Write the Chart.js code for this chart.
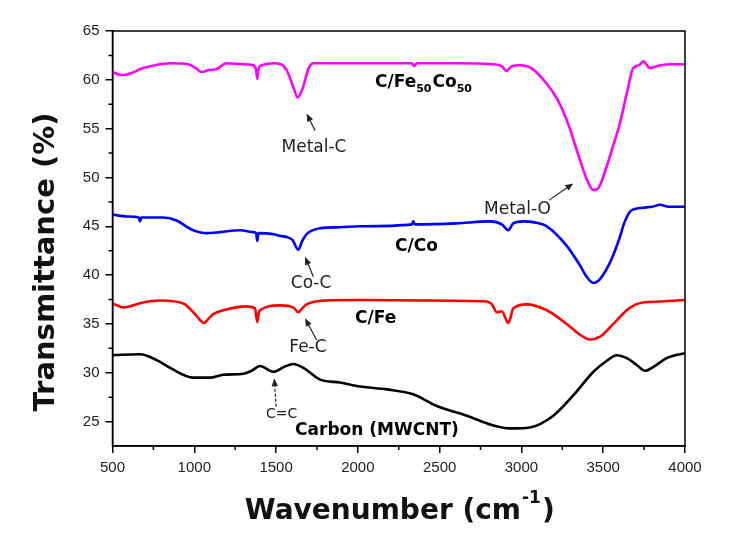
<!DOCTYPE html>
<html>
<head>
<meta charset="utf-8">
<script src="https://cdn.jsdelivr.net/npm/chart.js@4/dist/chart.umd.min.js"></script>
<style>
  html, body { margin: 0; padding: 0; background: #fff; }
  #wrap { width: 729px; height: 538px; position: relative; }
</style>
</head>
<body>
<div id="wrap"><canvas id="ftir"></canvas></div>
<script>
// FTIR spectra
const feCoX = [500, 556, 600, 688, 760, 852, 963, 1010, 1045, 1090, 1137, 1198, 1300, 1361, 1378, 1385, 1392, 1402, 1494, 1540, 1565, 1605, 1632, 1660, 1700, 1728, 1900, 2100, 2330, 2345, 2360, 2600, 2820, 2880, 2910, 2940, 2990, 3060, 3155, 3220, 3277, 3358, 3400, 3440, 3470, 3521, 3560, 3603, 3644, 3684, 3720, 3745, 3786, 3850, 3920, 4000];
const feCoY = [60.8, 60.5, 60.6, 61.2, 61.5, 61.7, 61.6, 61.2, 60.8, 61.0, 61.1, 61.7, 61.6, 61.5, 61.0, 60.1, 61.0, 61.4, 61.7, 61.5, 61.0, 59.3, 58.2, 59.0, 61.2, 61.7, 61.7, 61.7, 61.7, 61.4, 61.7, 61.7, 61.6, 61.4, 60.9, 61.4, 61.5, 61.2, 59.6, 58.0, 55.9, 51.8, 49.8, 48.7, 48.9, 51.1, 53.2, 55.6, 58.6, 61.2, 61.5, 61.9, 61.2, 61.5, 61.6, 61.6];

const coX = [500, 587, 660, 668, 676, 811, 892, 950, 994, 1076, 1157, 1280, 1361, 1378, 1385, 1392, 1483, 1530, 1565, 1600, 1636, 1660, 1687, 1769, 1891, 2013, 2330, 2339, 2348, 2600, 2808, 2880, 2920, 2950, 3011, 3080, 3155, 3277, 3358, 3400, 3440, 3480, 3542, 3600, 3630, 3664, 3700, 3745, 3800, 3847, 3900, 4000];
const coY = [46.2, 46.0, 45.9, 45.5, 45.9, 45.9, 45.6, 45.0, 44.6, 44.3, 44.4, 44.6, 44.4, 44.3, 43.5, 44.3, 44.2, 44.0, 43.9, 43.6, 42.6, 43.5, 44.2, 44.8, 44.9, 45.0, 45.2, 45.5, 45.2, 45.3, 45.5, 45.2, 44.6, 45.3, 45.5, 45.4, 45.0, 43.0, 41.0, 39.8, 39.2, 39.6, 41.3, 43.8, 45.4, 46.5, 46.8, 46.9, 47.0, 47.2, 47.0, 47.0];

const feX = [500, 566, 688, 790, 933, 994, 1030, 1059, 1090, 1116, 1177, 1320, 1371, 1385, 1395, 1402, 1524, 1605, 1636, 1660, 1687, 1809, 2013, 2400, 2788, 2820, 2849, 2880, 2920, 2951, 3032, 3155, 3277, 3350, 3419, 3481, 3562, 3644, 3700, 3745, 3850, 4000];
const feY = [37.1, 36.7, 37.2, 37.4, 37.1, 36.2, 35.5, 35.1, 35.6, 36.0, 36.4, 36.8, 36.6, 35.2, 36.2, 36.4, 36.9, 36.7, 36.2, 36.6, 37.0, 37.4, 37.45, 37.4, 37.3, 37.0, 36.2, 36.3, 35.1, 36.6, 37.0, 36.4, 35.0, 34.0, 33.4, 33.7, 35.0, 36.4, 37.0, 37.2, 37.3, 37.45];

const cntX = [500, 668, 770, 852, 994, 1096, 1177, 1300, 1350, 1402, 1483, 1550, 1605, 1667, 1769, 1891, 2013, 2176, 2339, 2482, 2666, 2829, 2930, 3052, 3195, 3318, 3440, 3520, 3583, 3644, 3705, 3756, 3807, 3888, 4000];
const cntY = [31.8, 31.9, 31.3, 30.5, 29.5, 29.5, 29.8, 29.9, 30.2, 30.7, 30.1, 30.6, 30.9, 30.5, 29.3, 29.0, 28.6, 28.3, 27.8, 26.6, 25.6, 24.6, 24.3, 24.4, 25.6, 27.7, 30.1, 31.2, 31.8, 31.5, 30.8, 30.2, 30.6, 31.5, 32.0];

const xTicks = [500, 1000, 1500, 2000, 2500, 3000, 3500, 4000];
const yTicks = [25, 30, 35, 40, 45, 50, 55, 60, 65];

// labels placed in data units: [text, x, y, align, style]
const labels = [
  ['Metal-C', 1732, 52.62, 'center', 'n'],
  ['Metal-O', 2976, 46.25, 'center', 'n'],
  ['C/Co', 2227, 42.46, 'left', 'b'],
  ['Co-C', 1714, 38.68, 'center', 'n'],
  ['C/Fe', 1983, 35.1, 'left', 'b'],
  ['Fe-C', 1695, 32.16, 'center', 'n'],
  ['C=C', 1534, 25.38, 'center', 's'],
  ['Carbon (MWCNT)', 1616, 23.64, 'left', 'b']
];
// arrows: [fromX, fromY, toX, toY, dashed]
const arrows = [
  [1738, 54.8, 1687, 56.55, false],
  [3170, 47.68, 3317, 49.39, false],
  [1728, 39.83, 1677, 41.88, false],
  [1748, 33.36, 1677, 35.58, false],
  [1500, 26.53, 1489, 29.44, true]
];

function pts(xs, ys) { return xs.map((x, i) => ({ x: x, y: ys[i] })); }

function series(label, xs, ys, color) {
  return {
    label: label,
    data: pts(xs, ys),
    borderColor: color,
    backgroundColor: color,
    borderWidth: 2.6,
    pointRadius: 0,
    fill: false,
    cubicInterpolationMode: 'monotone'
  };
}

const extras = {
  id: 'extras',
  beforeDraw(chart) {
    const c = chart.ctx;
    c.save();
    c.fillStyle = '#fff';
    c.fillRect(0, 0, chart.width, chart.height);
    c.restore();
  },
  afterDraw(chart) {
    const c = chart.ctx;
    const xs = chart.scales.x, ys = chart.scales.y;
    const a = chart.chartArea;
    c.save();
    // frame
    c.strokeStyle = '#000';
    c.lineWidth = 1.5;
    c.strokeRect(a.left, a.top, a.right - a.left, a.bottom - a.top);
    // minor ticks
    c.beginPath();
    for (let v = 750; v < 4000; v += 500) {
      const px = xs.getPixelForValue(v);
      c.moveTo(px, a.bottom); c.lineTo(px, a.bottom + 4);
    }
    for (let v = 27.5; v < 65; v += 5) {
      const py = ys.getPixelForValue(v);
      c.moveTo(a.left, py); c.lineTo(a.left - 4, py);
    }
    c.stroke();

    // axis titles
    c.fillStyle = '#111';
    c.font = 'bold 29px "DejaVu Sans"';
    c.textBaseline = 'middle';
    c.textAlign = 'center';
    c.save();
    c.translate(46, 262);
    c.rotate(-Math.PI / 2);
    c.fillText('Transmittance (%)', 0, 0);
    c.restore();

    c.textBaseline = 'alphabetic';
    c.textAlign = 'left';
    const t1 = 'Wavenumber (cm', t2 = '-1', t3 = ')';
    c.font = 'bold 28px "DejaVu Sans"';
    const w1 = c.measureText(t1).width, w3 = c.measureText(t3).width;
    c.font = 'bold 17px "DejaVu Sans"';
    const w2 = c.measureText(t2).width;
    let x0 = (a.left + a.right) / 2 - (w1 + w2 + w3) / 2;
    c.font = 'bold 28px "DejaVu Sans"';
    c.fillText(t1, x0, 519);
    c.font = 'bold 17px "DejaVu Sans"';
    c.fillText(t2, x0 + w1 + 1, 503);
    c.font = 'bold 28px "DejaVu Sans"';
    c.fillText(t3, x0 + w1 + w2 + 2, 519);

    // labels
    labels.forEach(([txt, x, y, align, st]) => {
      c.font = st === 'b' ? 'bold 17px "DejaVu Sans"' : st === 's' ? '14px "DejaVu Sans"' : '17px "DejaVu Sans"';
      c.fillStyle = st === 'b' ? '#000' : '#222';
      c.textAlign = align;
      c.fillText(txt, xs.getPixelForValue(x), ys.getPixelForValue(y));
    });

    // C/Fe50Co50 with subscripts
    let lx = xs.getPixelForValue(2105), ly = ys.getPixelForValue(59.27);
    c.fillStyle = '#000';
    c.textAlign = 'left';
    [['C/Fe', 0], ['50', 1], ['Co', 0], ['50', 1]].forEach(([s, sub]) => {
      c.font = sub ? 'bold 11px "DejaVu Sans"' : 'bold 17px "DejaVu Sans"';
      c.fillText(s, lx, sub ? ly + 5 : ly);
      lx += c.measureText(s).width + (sub ? 1 : 0);
    });

    // arrows
    c.strokeStyle = '#222';
    c.fillStyle = '#222';
    c.lineWidth = 1.2;
    arrows.forEach(([fx, fy, tx, ty, dashed]) => {
      const x1 = xs.getPixelForValue(fx), y1 = ys.getPixelForValue(fy);
      const x2 = xs.getPixelForValue(tx), y2 = ys.getPixelForValue(ty);
      const ang = Math.atan2(y2 - y1, x2 - x1);
      c.setLineDash(dashed ? [3, 2] : []);
      c.beginPath();
      c.moveTo(x1, y1);
      c.lineTo(x2 - 6 * Math.cos(ang), y2 - 6 * Math.sin(ang));
      c.stroke();
      c.setLineDash([]);
      c.beginPath();
      c.moveTo(x2, y2);
      c.lineTo(x2 - 8 * Math.cos(ang) + 3.2 * Math.sin(ang), y2 - 8 * Math.sin(ang) - 3.2 * Math.cos(ang));
      c.lineTo(x2 - 8 * Math.cos(ang) - 3.2 * Math.sin(ang), y2 - 8 * Math.sin(ang) + 3.2 * Math.cos(ang));
      c.closePath();
      c.fill();
    });
    c.restore();
  }
};

new Chart(document.getElementById('ftir'), {
  type: 'line',
  data: {
    datasets: [
      series('Carbon (MWCNT)', cntX, cntY, '#000000'),
      series('C/Fe', feX, feY, '#ff0000'),
      series('C/Co', coX, coY, '#0000ff'),
      series('C/Fe50Co50', feCoX, feCoY, '#ff00ff')
    ]
  },
  options: {
    responsive: true,
    maintainAspectRatio: false,
    animation: false,
    layout: { padding: { left: 0, top: 31, right: 44, bottom: 0 } },
    plugins: { legend: { display: false }, tooltip: { enabled: false } },
    scales: {
      x: {
        type: 'linear',
        min: 500,
        max: 4000,
        afterFit: (s) => { s.height = 92; },
        afterBuildTicks: (s) => { s.ticks = xTicks.map(v => ({ value: v })); },
        grid: { drawOnChartArea: false, drawTicks: true, tickLength: 7, color: '#000', lineWidth: 1.5 },
        border: { display: true, color: '#000', width: 1.5 },
        ticks: {
          font: { family: 'Liberation Sans', size: 15 }, color: '#222', padding: 6,
          maxRotation: 0, autoSkip: false,
          callback: (v) => String(v)
        }
      },
      y: {
        min: 22.5,
        max: 65,
        afterFit: (s) => { s.width = 112.5; },
        afterBuildTicks: (s) => { s.ticks = yTicks.map(v => ({ value: v })); },
        grid: { drawOnChartArea: false, drawTicks: true, tickLength: 7, color: '#000', lineWidth: 1.5 },
        border: { display: true, color: '#000', width: 1.5 },
        ticks: { font: { family: 'Liberation Sans', size: 15 }, color: '#222', padding: 6, callback: (v) => String(v) }
      }
    }
  },
  plugins: [extras]
});
</script>
</body>
</html>
